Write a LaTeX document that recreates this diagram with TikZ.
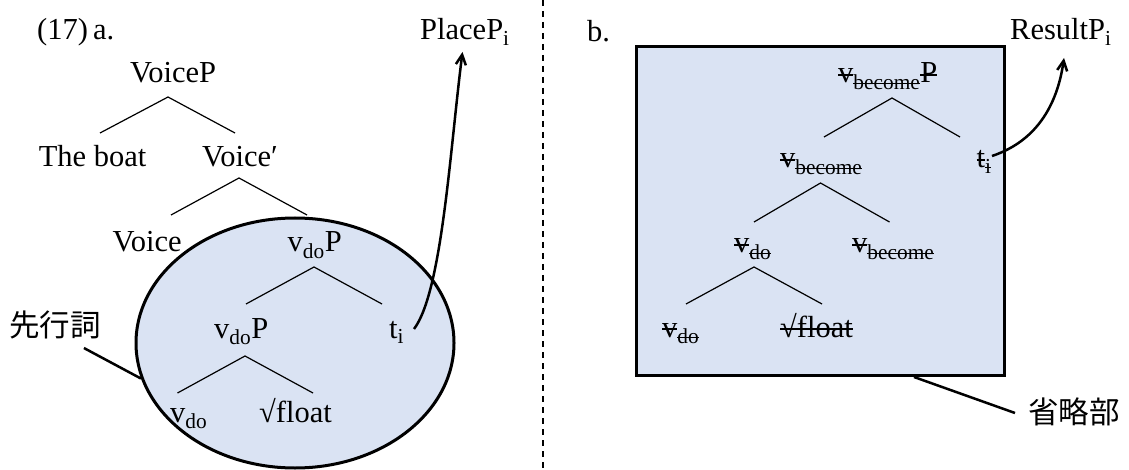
\documentclass[tikz,border=0pt]{standalone}
\usepackage{fontspec}
\setmainfont{Liberation Serif}
\newfontfamily\cjk{Noto Sans CJK JP}
\usetikzlibrary{shapes.geometric,arrows.meta,calc}
\definecolor{fillblue}{RGB}{218,227,243}
\newsavebox\stkbox
\newcommand\stk[1]{\leavevmode\sbox\stkbox{#1}\rlap{\rule[0.24em]{\wd\stkbox}{1.5pt}}\usebox\stkbox}
\newcommand\sbs[1]{\textsubscript{#1}}
\newcommand\ssb[1]{\textsubscript{\stk{#1}}}
\begin{document}
\begin{tikzpicture}[x=1pt,y=-1pt,
  every node/.style={font=\fontsize{30.5}{36}\selectfont, inner sep=0pt},
  tx/.style={anchor=base west},
  br/.style={line width=1.2pt},
  shade/.style={draw, line width=3pt, fill=fillblue},
  callout/.style={line width=2.5pt},
  movearrow/.style={line width=2.5pt, -{Straight Barb[length=10pt,width=10pt]}},
  sep/.style={line width=2pt, dash pattern=on 6pt off 5pt}]
\useasboundingbox (0,0) rectangle (1129,470);
% separator
\coordinate (sepTop) at (543,0);
\coordinate (sepBot) at (543,470);
\draw[sep] (sepTop) -- (sepBot);

% ---------- (a) ----------
\node[shade, ellipse, minimum width=318pt, minimum height=250pt] (ell) at (295,343) {};
\node[tx] (ex) at (37,40) {(17)\,a.};
\node[tx] (PlaceP) at (420,40) {PlaceP\sbs{i}};
\node[tx] (VoiceP) at (130,83) {VoiceP};
\node[tx] (boat) at (38.6,167) {The boat};
\node[tx] (Voicep) at (202,167) {Voice′};
\node[tx] (Voice) at (112.5,252) {Voice};
\node[tx] (vdoPa) at (287.5,252) {v\sbs{do}P};
\node[tx] (vdoPb) at (214,338) {v\sbs{do}P};
\node[tx] (ti) at (389,338) {t\sbs{i}};
\node[tx] (vdo) at (170,422) {v\sbs{do}};
\node[tx] (fl) at (259,422) {√float};
\node[tx, font=\cjk\fontsize{30.5}{36}\selectfont] (sk) at (9,336) {先行詞};

\draw[br] ($(boat.base west)+(61.4,-34)$) -- ($(VoiceP.base west)+(38,14)$) -- ($(Voicep.base west)+(33,-34)$);
\draw[br] ($(Voice.base west)+(58.5,-37)$) -- ($(Voicep.base west)+(37,11)$) -- ($(vdoPa.base west)+(19.5,-37)$);
\draw[br] ($(vdoPb.base west)+(32,-34)$) -- ($(vdoPa.base west)+(26.5,15)$) -- ($(ti.base west)+(-7,-34)$);
\draw[br] ($(vdo.base west)+(7.5,-29)$) -- ($(vdoPb.base west)+(31,18)$) -- ($(fl.base west)+(54,-29)$);

\draw[callout] ($(sk.base east)+(-17,12)$) -- (ell.193);
\draw[movearrow] ($(ti.base west)+(25,-9)$) .. controls (442,292) and (450,150) .. ($(PlaceP.base west)+(42.5,12)$);

% ---------- (b) ----------
\node[tx] (b) at (587,42) {b.};
\node[tx] (ResultP) at (1010,40) {ResultP\sbs{i}};
\node[shade, rectangle, anchor=north west, minimum width=368pt, minimum height=329pt] (box) at (635,45) {};
\node[tx] (vbP) at (838,83) {\stk{v}\ssb{become}\stk{P}};
\node[tx] (vb) at (780,168) {\stk{v}\ssb{become}};
\node[tx] (tib) at (976.5,168) {\stk{t}\ssb{i}};
\node[tx] (vdob) at (734,253) {\stk{v}\ssb{do}};
\node[tx] (vbb) at (852,253) {\stk{v}\ssb{become}};
\node[tx] (vdoc) at (662,337) {\stk{v}\ssb{do}};
\node[tx] (flb) at (780,337) {\stk{√float}};
\node[tx, font=\cjk\fontsize{30.5}{36}\selectfont] (sr) at (1028,423) {省略部};

\draw[br] ($(vb.base west)+(44,-31)$) -- ($(vbP.base west)+(54,15)$) -- ($(tib.base west)+(-16.5,-31)$);
\draw[br] ($(vdob.base west)+(20,-31)$) -- ($(vb.base west)+(40.5,15)$) -- ($(vbb.base west)+(37.5,-31)$);
\draw[br] ($(vdoc.base west)+(24,-33)$) -- ($(vdob.base west)+(20,14)$) -- ($(flb.base west)+(42,-33)$);

\draw[callout] ($(box.south west)+(279,0)$) -- ($(sr.base west)+(-13,-10)$);
\draw[movearrow] ($(tib.base west)+(15.5,-12)$) .. controls (1040,140) and (1058,100) .. ($(ResultP.base west)+(54,18)$);
\end{tikzpicture}
\end{document}
